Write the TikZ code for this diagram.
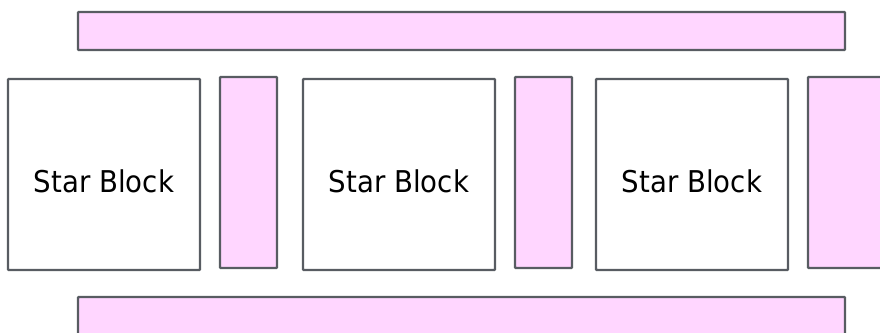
\documentclass[tikz,border=0pt]{standalone}
\usepackage{fontspec}
\setmainfont{DejaVu Sans}
\usetikzlibrary{fit}
\definecolor{edge}{RGB}{88,92,98}
\definecolor{pinkfill}{RGB}{255,214,255}
\tikzset{
  box/.style={draw=edge, line width=2.4pt, rounded corners=0.8pt, inner sep=0pt, outer sep=0pt},
  starblock/.style={box, fill=white},
  pinkbar/.style={box, fill=pinkfill},
  lbl/.style={anchor=base, inner sep=0pt, font=\fontsize{30}{36}\selectfont}
}
\begin{document}
\begin{tikzpicture}[x=1pt,y=-1pt]
\useasboundingbox (0,0) rectangle (880,332);
\clip (0,0) rectangle (880,332);
% top and bottom bars
\node[pinkbar, fit={(78,12) (845,50)}] (topbar) {};
\node[pinkbar, fit={(78,297) (845,360)}] (bottombar) {};
% star blocks
\node[starblock, fit={(8,79) (200,270)}] (b1) {};
\node[starblock, fit={(303,79) (495,270)}] (b2) {};
\node[starblock, fit={(596,79) (788,270)}] (b3) {};
% vertical pink bars
\node[pinkbar, fit={(220,77) (277,268)}] (v1) {};
\node[pinkbar, fit={(515,77) (572,268)}] (v2) {};
\node[pinkbar, fit={(808,77) (900,268)}] (v3) {};
% labels
\node[lbl] (s1) at ([yshift=-18pt]b1.center) {\scalebox{0.92}[1]{Star Block}};
\node[lbl] (s2) at ([yshift=-18pt]b2.center) {\scalebox{0.92}[1]{Star Block}};
\node[lbl] (s3) at ([yshift=-18pt]b3.center) {\scalebox{0.92}[1]{Star Block}};
\end{tikzpicture}
\end{document}
